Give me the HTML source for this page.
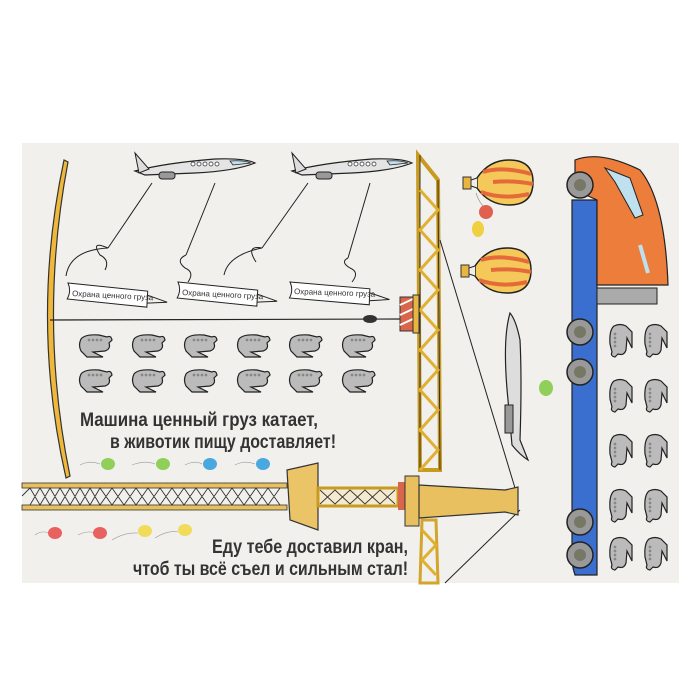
<!DOCTYPE html>
<html><head><meta charset="utf-8"><style>
html,body{margin:0;padding:0;background:#fff;width:700px;height:700px;overflow:hidden}
svg{display:block}
text{font-family:"Liberation Sans Narrow","Liberation Sans","DejaVu Sans Condensed",sans-serif;font-weight:bold;fill:#333}
</style></head><body>
<svg width="700" height="700" viewBox="0 0 700 700" xmlns="http://www.w3.org/2000/svg">
<defs>
<g id="sp">
 <path d="M-14,-6 Q-10,-11 4,-10 L12,-8 Q16,-10 17,-5 L14,-2 Q16,4 10,6 L-2,7 L8,12 L-8,12 L-14,6 Q-17,0 -14,-6Z" fill="#bbb" stroke="#222" stroke-width="1.2"/>
 <circle cx="-6" cy="-5" r="1" fill="#fff" stroke="#222" stroke-width=".5"/><circle cx="-2" cy="-5" r="1" fill="#fff" stroke="#222" stroke-width=".5"/><circle cx="2" cy="-5" r="1" fill="#fff" stroke="#222" stroke-width=".5"/><circle cx="6" cy="-5" r="1" fill="#fff" stroke="#222" stroke-width=".5"/>
</g>
<g id="vp">
 <path d="M-6,-14 Q-11,-10 -10,4 L-8,12 Q-10,16 -5,17 L-2,14 Q4,16 6,10 L7,-2 L12,8 L12,-8 L6,-14 Q0,-17 -6,-14Z" fill="#bbb" stroke="#222" stroke-width="1.2"/>
 <circle cx="-5" cy="-6" r="1" fill="#fff" stroke="#222" stroke-width=".5"/><circle cx="-5" cy="-2" r="1" fill="#fff" stroke="#222" stroke-width=".5"/><circle cx="-5" cy="2" r="1" fill="#fff" stroke="#222" stroke-width=".5"/><circle cx="-5" cy="6" r="1" fill="#fff" stroke="#222" stroke-width=".5"/>
</g>
<g id="bigplane">
 <path d="M0,18 Q30,10 80,6 Q110,5 120,10 Q100,18 60,20 L10,22Z" fill="#e4e4e4" stroke="#222" stroke-width="1.2"/>
 <path d="M0,0 L14,16 L4,20Z" fill="#ddd" stroke="#222" stroke-width="1"/>
 <rect x="24" y="19" width="16" height="7" rx="3" fill="#999" stroke="#222"/>
 <path d="M95,8 Q108,7 116,10 L98,12Z" fill="#bfe0ef" stroke="#222" stroke-width=".8"/>
 <g fill="#fff" stroke="#222" stroke-width=".7"><circle cx="58" cy="11" r="2"/><circle cx="64" cy="11" r="2"/><circle cx="70" cy="11" r="2"/><circle cx="76" cy="11" r="2"/><circle cx="82" cy="11" r="2"/></g>
</g>
<g id="banner">
 <path d="M0,0 L80,4 L80,20 L0,16 Q4,8 0,0Z" fill="#fff" stroke="#222" stroke-width="1"/>
 <path d="M80,8 L100,14 L80,16" fill="none" stroke="#222"/>
</g>
<g id="hab">
 <path d="M14,18 Q26,0 46,0 Q70,0 70,22 Q70,45 46,45 Q26,45 14,28Z" fill="#f5c85a" stroke="#222" stroke-width="1.5"/>
 <path d="M20,12 Q40,6 68,14 M18,32 Q40,40 66,34 M30,22 Q50,20 70,24" fill="none" stroke="#e56a3a" stroke-width="4"/>
 <path d="M14,18 L8,20 L8,26 L14,28" fill="#eee" stroke="#222"/>
 <rect x="0" y="17" width="8" height="12" fill="#e8b540" stroke="#333"/>
</g>
</defs>
<!-- sheet -->
<rect x="22" y="143" width="657" height="440" fill="#f1f0ed"/>
<!-- left arc -->
<path d="M64,160 Q30,320 66,478 L70,476 Q38,320 68,162Z" fill="#f0b83a" stroke="#333" stroke-width="1.2"/>
<!-- big planes -->
<use href="#bigplane" transform="translate(135,153)"/>
<use href="#bigplane" transform="translate(292,153)"/>
<!-- strings -->
<g fill="none" stroke="#222" stroke-width="1">
<path d="M152,183 L108,248 M215,183 L186,255 M308,183 L262,248 M370,183 L348,258"/>
<path d="M108,248 Q90,240 100,255 Q110,260 105,270 M108,248 Q70,250 66,276"/>
<path d="M186,255 Q175,260 185,268 Q195,272 188,282"/>
<path d="M262,248 Q245,245 256,262 M262,248 Q228,255 224,275"/>
<path d="M348,258 Q340,262 350,268 Q360,272 352,282"/>
</g>
<use href="#banner" transform="translate(68,283) rotate(3)"/>
<use href="#banner" transform="translate(178,282) rotate(3)"/>
<use href="#banner" transform="translate(290,282) rotate(2)"/>
<g font-size="8"><text x="72" y="296" transform="rotate(3 72 296)" style="font-weight:normal">Охрана ценного груза</text><text x="182" y="295" transform="rotate(3 182 295)" style="font-weight:normal">Охрана ценного груза</text><text x="294" y="294" transform="rotate(2 294 294)" style="font-weight:normal">Охрана ценного груза</text></g>
<!-- hook line -->
<line x1="50" y1="320" x2="400" y2="319" stroke="#222" stroke-width="1.2"/>
<ellipse cx="370" cy="319" rx="7" ry="4" fill="#333"/>
<!-- small planes -->
<g>
<use href="#sp" x="95" y="345"/><use href="#sp" x="148" y="345"/><use href="#sp" x="200" y="345"/><use href="#sp" x="253" y="345"/><use href="#sp" x="305" y="345"/><use href="#sp" x="358" y="345"/>
<use href="#sp" x="95" y="380"/><use href="#sp" x="148" y="380"/><use href="#sp" x="200" y="380"/><use href="#sp" x="253" y="380"/><use href="#sp" x="305" y="380"/><use href="#sp" x="358" y="380"/>
</g>
<!-- text 1 -->
<text x="80" y="426" font-size="19" textLength="238" lengthAdjust="spacingAndGlyphs">Машина ценный груз катает,</text>
<text x="110" y="448" font-size="19" textLength="226" lengthAdjust="spacingAndGlyphs">в животик пищу доставляет!</text>
<!-- balloons row 1 -->
<g stroke="#999" stroke-width=".6" fill="none"><path d="M80,465 Q90,460 100,464 M132,465 Q145,460 155,464 M185,465 Q195,460 202,464 M235,465 Q245,460 255,464"/></g>
<ellipse cx="108" cy="464" rx="7" ry="6" fill="#8fcf5a"/><ellipse cx="163" cy="464" rx="7" ry="6" fill="#8fcf5a"/><ellipse cx="210" cy="464" rx="7" ry="6" fill="#4aa8e0"/><ellipse cx="263" cy="464" rx="7" ry="6" fill="#4aa8e0"/>
<!-- crane mast -->
<path d="M418,155 L438,180 L440,470 L420,470Z" fill="none" stroke="#c99a20" stroke-width="4"/>
<path d="M420,155 L420,470 M438,180 L440,470" stroke="#333" stroke-width="1"/>
<path d="M420,190 L438,210 L420,230 L438,250 L420,270 L438,290 L420,310 L438,330 L420,350 L438,370 L420,390 L438,410 L420,430 L438,450 L420,470" fill="none" stroke="#e0b030" stroke-width="3"/>
<path d="M422,520 L436,520 L438,583 L420,583Z" fill="none" stroke="#d3a52a" stroke-width="3"/>
<path d="M422,530 L436,545 L422,560 L436,575" fill="none" stroke="#e0b030" stroke-width="3"/>
<!-- counterweight -->
<rect x="400" y="297" width="15" height="34" fill="#d9664a" stroke="#333"/>
<path d="M400,305 L415,298 M400,315 L415,308 M400,325 L415,318" stroke="#fff" stroke-width="2"/>
<rect x="413" y="295" width="6" height="38" fill="#e8b540" stroke="#333"/>
<!-- cables -->
<path d="M440,240 L515,488 M520,510 L445,583" stroke="#222" stroke-width="1"/>
<!-- jib -->
<rect x="22" y="483" width="265" height="5" fill="#e8c060" stroke="#333" stroke-width=".8"/>
<rect x="22" y="505" width="265" height="5" fill="#e8c060" stroke="#333" stroke-width=".8"/>
<path d="M22,496 L30,488 L40,505 L50,488 L60,505 L70,488 L80,505 L90,488 L100,505 L112,488 L124,505 L136,488 L148,505 L160,488 L172,505 L184,488 L196,505 L208,488 L220,505 L232,488 L244,505 L256,488 L268,505 L280,488 M30,505 L40,488 L50,505 L60,488 L70,505 L80,488 L90,505 L100,488 L112,505 L124,488 L136,505 L148,488 L160,505 L172,488 L184,505 L196,488 L208,505 L220,488 L232,505 L244,488 L256,505 L268,488 L280,505" fill="none" stroke="#333" stroke-width=".9"/>
<path d="M287,470 L318,463 L318,530 L290,520Z" fill="#ebc468" stroke="#333" stroke-width="1.2"/>
<rect x="318" y="488" width="80" height="18" fill="#f4ead0" stroke="#c99a20" stroke-width="3"/>
<path d="M320,490 L335,504 L350,490 L365,504 L380,490 L395,504 M320,504 L335,490 L350,504 L365,490 L380,504 L395,490" fill="none" stroke="#333" stroke-width=".9"/>
<rect x="398" y="482" width="8" height="28" fill="#d9664a"/>
<rect x="405" y="476" width="14" height="50" fill="#e8c060" stroke="#333"/>
<path d="M419,485 L505,490 L518,487 L518,515 L505,512 L419,518Z" fill="#e8c060" stroke="#333" stroke-width="1.2"/>
<!-- balloons row 2 -->
<g stroke="#999" stroke-width=".6" fill="none"><path d="M35,535 Q42,530 48,533 M78,535 Q88,530 94,533 M112,540 Q125,532 138,533 M155,538 Q168,530 178,532"/></g>
<ellipse cx="55" cy="533" rx="7" ry="6" fill="#e86060"/><ellipse cx="100" cy="533" rx="7" ry="6" fill="#e86060"/><ellipse cx="145" cy="531" rx="7" ry="6" fill="#f0dc5a"/><ellipse cx="185" cy="530" rx="7" ry="6" fill="#f0dc5a"/>
<!-- text 2 -->
<text x="408" y="553" font-size="19" text-anchor="end" textLength="196" lengthAdjust="spacingAndGlyphs">Еду тебе доставил кран,</text>
<text x="408" y="575" font-size="19" text-anchor="end" textLength="275" lengthAdjust="spacingAndGlyphs">чтоб ты всё съел и сильным стал!</text>
<!-- hot air balloons -->
<g transform="translate(463,160)"><use href="#hab"/></g>
<g transform="translate(461,248)"><use href="#hab"/></g>
<path d="M476,193 Q480,205 486,208" stroke="#888" fill="none" stroke-width=".6"/>
<circle cx="486" cy="212" r="7" fill="#e06050"/><ellipse cx="478" cy="229" rx="6" ry="8" fill="#f0d040"/>
<!-- vertical plane -->
<path d="M510,313 Q502,340 508,400 L512,445 Q520,455 528,460 L520,440 Q522,380 520,340 Q516,320 510,313Z" fill="#ddd" stroke="#222" stroke-width="1.2"/>
<rect x="505" y="405" width="8" height="28" fill="#999" stroke="#222"/>
<ellipse cx="546" cy="388" rx="7" ry="8" fill="#8fcf5a"/>
<!-- truck -->
<path d="M572,200 L597,200 L597,575 L575,575 Q570,560 572,545Z" fill="#3b6fcf" stroke="#222" stroke-width="1.2"/>
<path d="M575,160 Q600,150 640,170 Q665,200 668,285 L597,285 L597,200 L575,190Z" fill="#ec7d3a" stroke="#222" stroke-width="1.2"/>
<path d="M605,168 L630,178 L643,215 L635,218 L615,182Z" fill="#bfe0ef" stroke="#222"/>
<path d="M640,245 L648,273" stroke="#bfe0ef" stroke-width="4"/>
<rect x="597" y="288" width="60" height="16" fill="#aaa" stroke="#222"/>
<g fill="#999" stroke="#222" stroke-width="1.5">
<circle cx="580" cy="185" r="13"/><circle cx="580" cy="332" r="13"/><circle cx="580" cy="372" r="13"/><circle cx="580" cy="522" r="13"/><circle cx="580" cy="555" r="13"/></g>
<g fill="#776" ><circle cx="580" cy="185" r="6"/><circle cx="580" cy="332" r="6"/><circle cx="580" cy="372" r="6"/><circle cx="580" cy="522" r="6"/><circle cx="580" cy="555" r="6"/></g>
<!-- vertical small planes -->
<use href="#vp" x="620" y="340"/><use href="#vp" x="655" y="340"/>
<use href="#vp" x="620" y="395"/><use href="#vp" x="655" y="395"/>
<use href="#vp" x="620" y="450"/><use href="#vp" x="655" y="450"/>
<use href="#vp" x="620" y="505"/><use href="#vp" x="655" y="505"/>
<use href="#vp" x="620" y="553"/><use href="#vp" x="655" y="553"/>
</svg>
</body></html>
